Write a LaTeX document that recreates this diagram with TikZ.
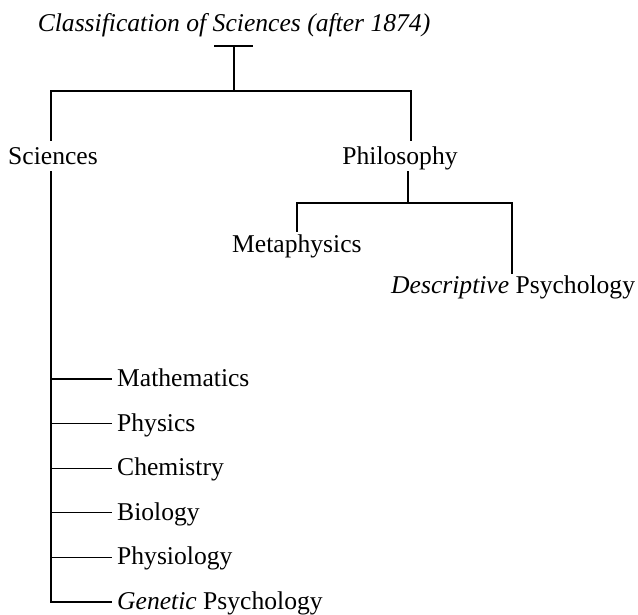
\documentclass[tikz,border=0pt]{standalone}
\usepackage{fontspec}
\setmainfont{Liberation Serif}
\begin{document}
\begin{tikzpicture}[x=1pt,y=-1pt,
  lbl/.style={inner sep=0pt, font=\fontsize{25.6}{30}\selectfont},
  ln/.style={line width=1.2pt, line cap=rect}]
\useasboundingbox (0,0) rectangle (638,615);
% labels
\node[lbl,anchor=base] (title) at (234,32) {\itshape Classification of Sciences (after 1874)};
\node[lbl,anchor=base] (sci) at (53,165) {Sciences};
\node[lbl,anchor=base] (phil) at (400,165) {Philosophy};
\node[lbl,anchor=base west] (meta) at (232,253) {Metaphysics};
\node[lbl,anchor=base west] (desc) at (391,294) {\textit{Descriptive} Psychology};
\foreach \n/\t [count=\i from 0] in {math/Mathematics,phys/Physics,chem/Chemistry,bio/Biology,physio/Physiology,gen/{\textit{Genetic} Psychology}}{
  \node[lbl,anchor=base west] (\n) at (117,{379+44.6*\i+7.5}) {\t};
  \coordinate (\n-l) at (51,{379+44.6*\i});
  \coordinate (\n-r) at (111,{379+44.6*\i});
}
% coordinates
\coordinate (tl) at (215,46);
\coordinate (tr) at (252,46);
\coordinate (tm) at (234,46);
\coordinate (hm) at (234,91);
\coordinate (hl) at (51,91);
\coordinate (hr) at (411,91);
\coordinate (scitop) at (51,140);
\coordinate (philtop) at (411,140);
\coordinate (scibot) at (51,172);
\coordinate (philbot) at (408,172);
\coordinate (pm) at (408,203);
\coordinate (pl) at (297,203);
\coordinate (pr) at (512,203);
\coordinate (metatop) at (297,231);
\coordinate (desctop) at (512,273);
% connectors
\draw[ln] (tl) -- (tr);
\draw[ln] (tm) -- (hm);
\draw[ln] (scitop) -- (hl) -- (hr) -- (philtop);
\draw[ln] (scibot) -- (gen-l);
\foreach \n in {math,phys,chem,bio,physio,gen}{\draw[ln] (\n-l) -- (\n-r);}
\draw[ln] (philbot) -- (pm);
\draw[ln] (metatop) -- (pl) -- (pr) -- (desctop);
\end{tikzpicture}
\end{document}
